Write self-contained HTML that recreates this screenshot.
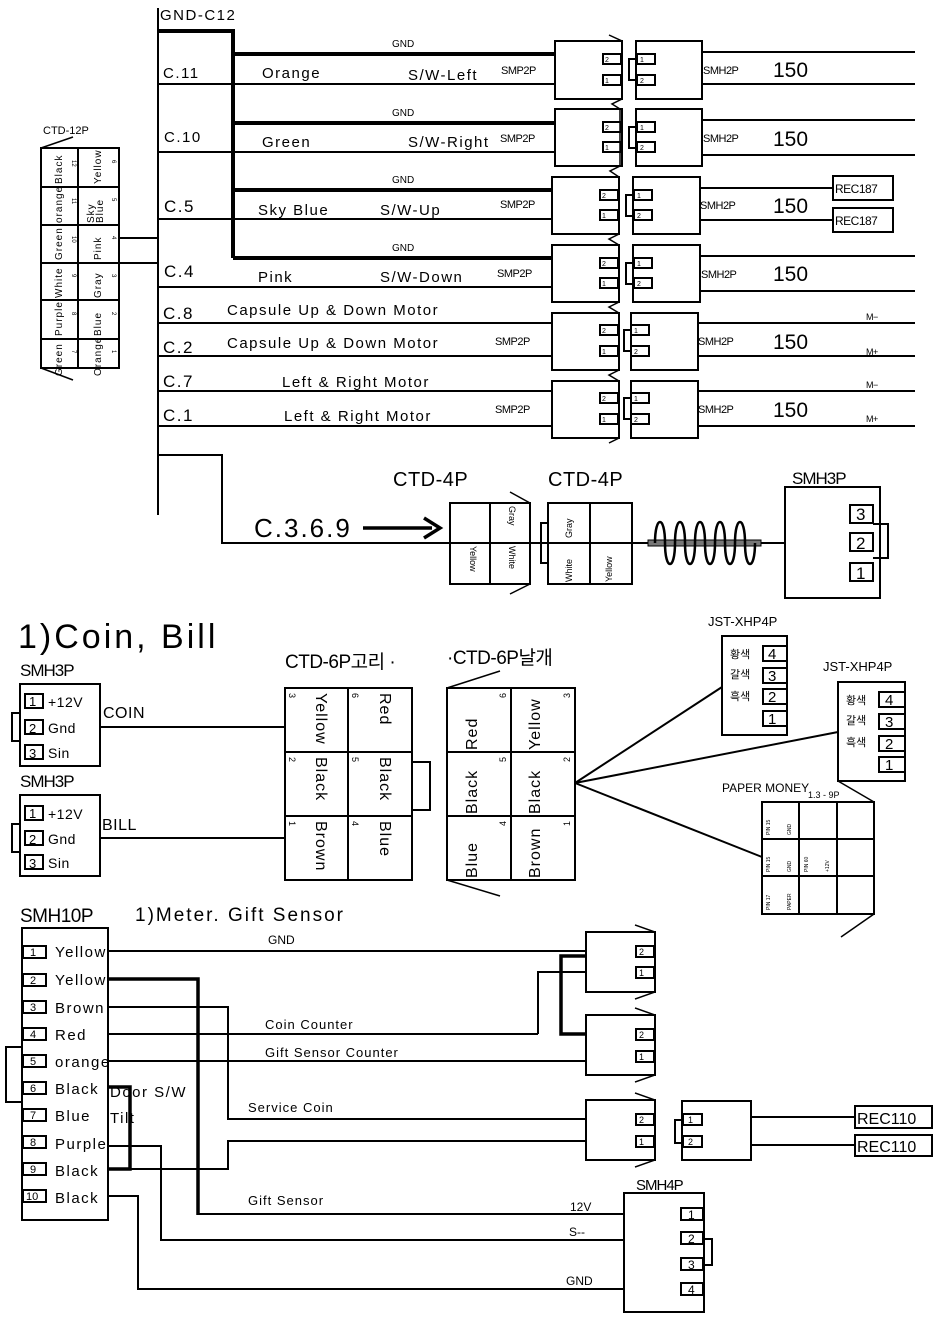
<!DOCTYPE html>
<html><head><meta charset="utf-8"><style>
html,body{margin:0;padding:0;background:#fff}
svg{display:block}
text{font-family:"Liberation Sans","Noto Sans CJK KR",sans-serif;fill:#000}
</style></head><body>
<svg width="939" height="1325" viewBox="0 0 939 1325" xmlns="http://www.w3.org/2000/svg">
<g stroke="#000" fill="none" stroke-width="2">
<line x1="158" y1="8" x2="158" y2="515"/>
<polyline points="158,31 233,31 233,258" stroke-width="4"/>
<line x1="233" y1="54" x2="556" y2="54" stroke-width="4"/>
<line x1="233" y1="123" x2="556" y2="123" stroke-width="4"/>
<line x1="233" y1="190" x2="553" y2="190" stroke-width="4"/>
<line x1="233" y1="258" x2="553" y2="258" stroke-width="4"/>
<line x1="158" y1="84" x2="556" y2="84"/>
<line x1="158" y1="152" x2="556" y2="152"/>
<line x1="158" y1="219" x2="553" y2="219"/>
<line x1="158" y1="287" x2="553" y2="287"/>
<line x1="158" y1="323" x2="553" y2="323"/>
<line x1="158" y1="356" x2="553" y2="356"/>
<line x1="158" y1="391" x2="553" y2="391"/>
<line x1="158" y1="426" x2="553" y2="426"/>
<rect x="41" y="148" width="78" height="220"/>
<line x1="78" y1="148" x2="78" y2="368"/>
<line x1="41" y1="187" x2="119" y2="187"/><line x1="41" y1="225" x2="119" y2="225"/>
<line x1="41" y1="263" x2="119" y2="263"/><line x1="41" y1="300" x2="119" y2="300"/>
<line x1="41" y1="339" x2="119" y2="339"/>
<line x1="41" y1="148" x2="73" y2="137" stroke-width="1.5"/>
<line x1="41" y1="368" x2="73" y2="380" stroke-width="1.5"/>
<line x1="119" y1="238" x2="158" y2="238"/>
<line x1="119" y1="263" x2="158" y2="263"/>
</g>
<g font-size="15" letter-spacing="1.5">
<text x="160" y="20">GND-C12</text>
<text x="163" y="78">C.11</text><text x="262" y="78">Orange</text><text x="408" y="80">S/W-Left</text>
<text x="164" y="142">C.10</text><text x="262" y="147">Green</text><text x="408" y="147">S/W-Right</text>
<text x="164" y="212" font-size="17">C.5</text><text x="258" y="215">Sky Blue</text><text x="380" y="215">S/W-Up</text>
<text x="164" y="277" font-size="17">C.4</text><text x="258" y="282">Pink</text><text x="380" y="282">S/W-Down</text>
<text x="163" y="319" font-size="17">C.8</text><text x="227" y="315">Capsule Up &amp; Down Motor</text>
<text x="163" y="353" font-size="17">C.2</text><text x="227" y="348">Capsule Up &amp; Down Motor</text>
<text x="163" y="387" font-size="17">C.7</text><text x="282" y="387">Left &amp; Right Motor</text>
<text x="163" y="421" font-size="17">C.1</text><text x="284" y="421">Left &amp; Right Motor</text>
</g>
<g font-size="10">
<text x="392" y="47">GND</text><text x="392" y="116">GND</text><text x="392" y="183">GND</text><text x="392" y="251">GND</text>
<text x="43" y="134" font-size="11">CTD-12P</text>
</g>
<g font-size="10" letter-spacing="1">
<text transform="translate(62,184) rotate(-90)">Black</text><text transform="translate(101,184) rotate(-90)">Yellow</text>
<text transform="translate(62,223) rotate(-90)">orange</text><text transform="translate(94,223) rotate(-90)">Sky</text><text transform="translate(103,223) rotate(-90)">Blue</text>
<text transform="translate(62,260) rotate(-90)">Green</text><text transform="translate(101,260) rotate(-90)">Pink</text>
<text transform="translate(62,298) rotate(-90)">White</text><text transform="translate(101,298) rotate(-90)">Gray</text>
<text transform="translate(62,336) rotate(-90)">Purple</text><text transform="translate(101,336) rotate(-90)">Blue</text>
<text transform="translate(62,376) rotate(-90)">Green</text><text transform="translate(101,376) rotate(-90)">Orange</text>
</g>
<g font-size="6">
<text transform="translate(72,160) rotate(90)">12</text><text transform="translate(112,160) rotate(90)">6</text>
<text transform="translate(72,198) rotate(90)">11</text><text transform="translate(112,198) rotate(90)">5</text>
<text transform="translate(72,236) rotate(90)">10</text><text transform="translate(112,236) rotate(90)">4</text>
<text transform="translate(72,274) rotate(90)">9</text><text transform="translate(112,274) rotate(90)">3</text>
<text transform="translate(72,312) rotate(90)">8</text><text transform="translate(112,312) rotate(90)">2</text>
<text transform="translate(72,350) rotate(90)">7</text><text transform="translate(112,350) rotate(90)">1</text>
</g>

<g stroke="#000" fill="none" stroke-width="2">
<rect x="555" y="41" width="67" height="58"/><rect x="636" y="41" width="66" height="58"/>
<rect x="603" y="54" width="18" height="10"/><rect x="603" y="75" width="18" height="10"/>
<rect x="637" y="54" width="18" height="10"/><rect x="637" y="75" width="18" height="10"/>
<polyline points="636,59 629,59 629,80 636,80"/>
<line x1="702" y1="52" x2="915" y2="52"/><line x1="702" y1="84" x2="915" y2="84"/>
<rect x="555" y="109" width="67" height="57"/><rect x="636" y="109" width="66" height="57"/>
<rect x="603" y="122" width="18" height="10"/><rect x="603" y="142" width="18" height="10"/>
<rect x="637" y="122" width="18" height="10"/><rect x="637" y="142" width="18" height="10"/>
<polyline points="636,127 629,127 629,148 636,148"/>
<line x1="702" y1="120" x2="915" y2="120"/><line x1="702" y1="155" x2="915" y2="155"/>
<rect x="552" y="177" width="67" height="57"/><rect x="633" y="177" width="67" height="57"/>
<rect x="600" y="190" width="18" height="10"/><rect x="600" y="210" width="18" height="10"/>
<rect x="634" y="190" width="18" height="10"/><rect x="634" y="210" width="18" height="10"/>
<polyline points="633,195 626,195 626,216 633,216"/>
<line x1="700" y1="188" x2="833" y2="188"/><line x1="700" y1="220" x2="833" y2="220"/>
<rect x="833" y="176" width="60" height="24"/><rect x="833" y="208" width="60" height="24"/>
<rect x="552" y="245" width="67" height="57"/><rect x="633" y="245" width="67" height="57"/>
<rect x="600" y="258" width="18" height="10"/><rect x="600" y="278" width="18" height="10"/>
<rect x="634" y="258" width="18" height="10"/><rect x="634" y="278" width="18" height="10"/>
<polyline points="633,263 626,263 626,284 633,284"/>
<line x1="700" y1="256" x2="915" y2="256"/><line x1="700" y1="291" x2="915" y2="291"/>
<rect x="552" y="313" width="67" height="57"/><rect x="631" y="313" width="67" height="57"/>
<rect x="600" y="325" width="18" height="10"/><rect x="600" y="346" width="18" height="10"/>
<rect x="631" y="325" width="18" height="10"/><rect x="631" y="346" width="18" height="10"/>
<polyline points="631,330 624,330 624,351 631,351"/>
<line x1="698" y1="323" x2="915" y2="323"/><line x1="698" y1="356" x2="915" y2="356"/>
<rect x="552" y="381" width="67" height="57"/><rect x="631" y="381" width="67" height="57"/>
<rect x="600" y="393" width="18" height="10"/><rect x="600" y="414" width="18" height="10"/>
<rect x="631" y="393" width="18" height="10"/><rect x="631" y="414" width="18" height="10"/>
<polyline points="631,398 624,398 624,419 631,419"/>
<line x1="698" y1="391" x2="915" y2="391"/><line x1="698" y1="426" x2="915" y2="426"/>
<polyline points="609,35 622,41 622,99 612,104 620,109 620,166 610,171 619,177 619,234 609,239 619,245 619,302 609,307 619,313 619,370 609,375 619,381 619,438 609,443" stroke-width="1.5"/>
</g>
<g font-size="11" letter-spacing="-0.5">
<text x="501" y="74">SMP2P</text><text x="500" y="142">SMP2P</text><text x="500" y="208">SMP2P</text><text x="497" y="277">SMP2P</text><text x="495" y="345">SMP2P</text><text x="495" y="413">SMP2P</text>
<text x="703" y="74">SMH2P</text><text x="703" y="142">SMH2P</text><text x="700" y="209">SMH2P</text><text x="701" y="278">SMH2P</text><text x="698" y="345">SMH2P</text><text x="698" y="413">SMH2P</text>
<text x="835" y="193" font-size="12">REC187</text><text x="835" y="225" font-size="12">REC187</text>
<text x="866" y="320" font-size="9">M−</text><text x="866" y="355" font-size="9">M+</text>
<text x="866" y="388" font-size="9">M−</text><text x="866" y="422" font-size="9">M+</text>
</g>
<g font-size="21">
<text x="773" y="77">150</text><text x="773" y="146">150</text><text x="773" y="213">150</text><text x="773" y="281">150</text><text x="773" y="349">150</text><text x="773" y="417">150</text>
</g>
<g font-size="7">
<text x="605" y="62">2</text><text x="605" y="83">1</text><text x="640" y="62">1</text><text x="640" y="83">2</text>
<text x="605" y="130">2</text><text x="605" y="150">1</text><text x="640" y="130">1</text><text x="640" y="150">2</text>
<text x="602" y="198">2</text><text x="602" y="218">1</text><text x="637" y="198">1</text><text x="637" y="218">2</text>
<text x="602" y="266">2</text><text x="602" y="286">1</text><text x="637" y="266">1</text><text x="637" y="286">2</text>
<text x="602" y="333">2</text><text x="602" y="354">1</text><text x="634" y="333">1</text><text x="634" y="354">2</text>
<text x="602" y="401">2</text><text x="602" y="422">1</text><text x="634" y="401">1</text><text x="634" y="422">2</text>
</g>

<g stroke="#000" fill="none" stroke-width="2">
<polyline points="158,455 222,455 222,543 785,543"/>
<line x1="363" y1="528" x2="432" y2="528" stroke-width="3.5"/>
<polyline points="424,518 440,528 424,538" stroke-width="3.5"/>
<rect x="450" y="503" width="80" height="81"/><line x1="490" y1="503" x2="490" y2="584"/>
<line x1="530" y1="503" x2="510" y2="492" stroke-width="1.5"/><line x1="530" y1="584" x2="510" y2="594" stroke-width="1.5"/>
<rect x="548" y="503" width="84" height="81"/><line x1="590" y1="503" x2="590" y2="584"/>
<polyline points="548,523 541,523 541,563 548,563"/>
<rect x="785" y="487" width="95" height="111"/>
<rect x="850" y="505" width="23" height="18"/><rect x="850" y="533" width="23" height="18"/><rect x="850" y="563" width="23" height="18"/>
<polyline points="873,524 888,524 888,558 873,558"/>
<rect x="648" y="540" width="113" height="6" fill="#777" stroke-width="1"/>
<path d="M655,543 C655,515 665,515 665,543 C665,571 675,571 675,543 C675,515 685,515 685,543 C685,571 695,571 695,543 C695,515 705,515 705,543 C705,571 715,571 715,543 C715,515 725,515 725,543 C725,571 735,571 735,543 C735,515 745,515 745,543 C745,571 755,571 755,543" stroke-width="2.5"/>
</g>
<g font-size="20" letter-spacing="0.5">
<text x="393" y="486">CTD-4P</text><text x="548" y="486">CTD-4P</text>
<text x="254" y="537" font-size="26" letter-spacing="2">C.3.6.9</text>
<text x="792" y="484" font-size="17" letter-spacing="-1">SMH3P</text>
<text x="856" y="520" font-size="17">3</text><text x="856" y="549" font-size="17">2</text><text x="856" y="579" font-size="17">1</text>
</g>
<g font-size="9">
<text transform="translate(509,506) rotate(90)">Gray</text><text transform="translate(509,546) rotate(90)">White</text>
<text transform="translate(470,546) rotate(90)">Yellow</text>
<text transform="translate(572,538) rotate(-90)">Gray</text><text transform="translate(572,582) rotate(-90)">White</text>
<text transform="translate(612,582) rotate(-90)">Yellow</text>
</g>

<text x="18" y="648" font-size="34" letter-spacing="3">1)Coin, Bill</text>
<text x="285" y="668" font-size="19" letter-spacing="-0.5">CTD-6P고리 ·</text>
<text x="447" y="664" font-size="19" letter-spacing="-0.5">·CTD-6P날개</text>
<g stroke="#000" fill="none" stroke-width="2">
<rect x="20" y="684" width="80" height="82"/>
<rect x="25" y="694" width="18" height="14"/><rect x="25" y="720" width="18" height="14"/><rect x="25" y="745" width="18" height="14"/>
<polyline points="20,713 12,713 12,741 20,741"/>
<line x1="100" y1="727" x2="285" y2="727"/>
<rect x="20" y="795" width="80" height="81"/>
<rect x="25" y="806" width="18" height="14"/><rect x="25" y="831" width="18" height="14"/><rect x="25" y="855" width="18" height="14"/>
<polyline points="20,824 12,824 12,852 20,852"/>
<line x1="100" y1="838" x2="285" y2="838"/>
<rect x="285" y="688" width="127" height="192"/><line x1="348" y1="688" x2="348" y2="880"/>
<line x1="285" y1="752" x2="412" y2="752"/><line x1="285" y1="816" x2="412" y2="816"/>
<polyline points="412,762 430,762 430,810 412,810"/>
<rect x="447" y="688" width="128" height="192"/><line x1="511" y1="688" x2="511" y2="880"/>
<line x1="447" y1="752" x2="575" y2="752"/><line x1="447" y1="816" x2="575" y2="816"/>
<line x1="447" y1="688" x2="500" y2="671" stroke-width="1.5"/><line x1="447" y1="880" x2="500" y2="896" stroke-width="1.5"/>
<line x1="575" y1="783" x2="722" y2="687"/><line x1="575" y1="783" x2="838" y2="732"/><line x1="575" y1="783" x2="762" y2="857"/>
<rect x="722" y="636" width="65" height="99"/>
<rect x="763" y="646" width="24" height="15"/><rect x="763" y="668" width="24" height="15"/><rect x="763" y="689" width="24" height="15"/><rect x="763" y="711" width="24" height="15"/>
<rect x="838" y="682" width="67" height="99"/>
<rect x="879" y="692" width="26" height="15"/><rect x="879" y="714" width="26" height="15"/><rect x="879" y="736" width="26" height="15"/><rect x="879" y="757" width="26" height="15"/>
<rect x="762" y="802" width="112" height="112"/>
<line x1="799" y1="802" x2="799" y2="914"/><line x1="837" y1="802" x2="837" y2="914"/>
<line x1="762" y1="839" x2="874" y2="839"/><line x1="762" y1="876" x2="874" y2="876"/>
<line x1="838" y1="781" x2="874" y2="802" stroke-width="1.5"/><line x1="874" y1="914" x2="841" y2="937" stroke-width="1.5"/>
</g>
<g font-size="14" letter-spacing="0.5">
<text x="20" y="676" font-size="17" letter-spacing="-1">SMH3P</text>
<text x="29" y="706" font-size="13">1</text><text x="48" y="707">+12V</text>
<text x="29" y="733" font-size="13">2</text><text x="48" y="733">Gnd</text>
<text x="29" y="758" font-size="13">3</text><text x="48" y="758">Sin</text>
<text x="103" y="718" font-size="16">COIN</text>
<text x="20" y="787" font-size="17" letter-spacing="-1">SMH3P</text>
<text x="29" y="818" font-size="13">1</text><text x="48" y="819">+12V</text>
<text x="29" y="844" font-size="13">2</text><text x="48" y="844">Gnd</text>
<text x="29" y="868" font-size="13">3</text><text x="48" y="868">Sin</text>
<text x="102" y="830" font-size="16">BILL</text>
</g>
<g font-size="16" letter-spacing="1">
<text transform="translate(316,693) rotate(90)">Yellow</text><text transform="translate(380,693) rotate(90)">Red</text>
<text transform="translate(316,757) rotate(90)">Black</text><text transform="translate(380,757) rotate(90)">Black</text>
<text transform="translate(316,821) rotate(90)">Brown</text><text transform="translate(380,821) rotate(90)">Blue</text>
<text transform="translate(477,750) rotate(-90)">Red</text><text transform="translate(540,750) rotate(-90)">Yellow</text>
<text transform="translate(477,814) rotate(-90)">Black</text><text transform="translate(540,814) rotate(-90)">Black</text>
<text transform="translate(477,878) rotate(-90)">Blue</text><text transform="translate(540,878) rotate(-90)">Brown</text>
</g>
<g font-size="9">
<text transform="translate(289,693) rotate(90)">3</text><text transform="translate(352,693) rotate(90)">6</text>
<text transform="translate(289,757) rotate(90)">2</text><text transform="translate(352,757) rotate(90)">5</text>
<text transform="translate(289,821) rotate(90)">1</text><text transform="translate(352,821) rotate(90)">4</text>
<text transform="translate(506,698) rotate(-90)">6</text><text transform="translate(570,698) rotate(-90)">3</text>
<text transform="translate(506,762) rotate(-90)">5</text><text transform="translate(570,762) rotate(-90)">2</text>
<text transform="translate(506,826) rotate(-90)">4</text><text transform="translate(570,826) rotate(-90)">1</text>
</g>
<g font-size="13">
<text x="708" y="626">JST-XHP4P</text><text x="823" y="671">JST-XHP4P</text>
<text x="730" y="658" font-size="11">황색</text><text x="730" y="678" font-size="11">갈색</text><text x="730" y="700" font-size="11">흑색</text>
<text x="768" y="659" font-size="15">4</text><text x="768" y="681" font-size="15">3</text><text x="768" y="702" font-size="15">2</text><text x="768" y="724" font-size="15">1</text>
<text x="846" y="704" font-size="11">황색</text><text x="846" y="724" font-size="11">갈색</text><text x="846" y="746" font-size="11">흑색</text>
<text x="885" y="705" font-size="15">4</text><text x="885" y="727" font-size="15">3</text><text x="885" y="749" font-size="15">2</text><text x="885" y="770" font-size="15">1</text>
<text x="722" y="792" font-size="12">PAPER MONEY</text><text x="808" y="798" font-size="9">1.3   - 9P</text>
</g>
<g font-size="5">
<text transform="translate(770,835) rotate(-90)">PIN 15</text><text transform="translate(791,835) rotate(-90)">GND</text>
<text transform="translate(770,872) rotate(-90)">PIN 15</text><text transform="translate(791,872) rotate(-90)">GND</text>
<text transform="translate(808,872) rotate(-90)">PIN 60</text><text transform="translate(829,872) rotate(-90)">+12V</text>
<text transform="translate(770,910) rotate(-90)">PIN 17</text><text transform="translate(791,910) rotate(-90)">PAPER</text>
</g>

<text x="20" y="922" font-size="19" letter-spacing="-0.5">SMH10P</text>
<text x="135" y="921" font-size="19" letter-spacing="2">1)Meter. Gift Sensor</text>
<g stroke="#000" fill="none" stroke-width="2">
<rect x="22" y="928" width="86" height="292"/>
<rect x="23" y="946" width="23" height="12"/><rect x="23" y="974" width="23" height="12"/><rect x="23" y="1001" width="23" height="12"/>
<rect x="23" y="1028" width="23" height="12"/><rect x="23" y="1055" width="23" height="12"/><rect x="23" y="1082" width="23" height="12"/>
<rect x="23" y="1109" width="23" height="12"/><rect x="23" y="1136" width="23" height="12"/><rect x="23" y="1163" width="23" height="12"/>
<rect x="23" y="1190" width="23" height="12"/>
<polyline points="22,1047 6,1047 6,1102 22,1102"/>
<line x1="108" y1="951" x2="587" y2="951"/>
<polyline points="108,979 198,979 198,1215" stroke-width="3.5"/>
<line x1="198" y1="1214" x2="625" y2="1214"/>
<polyline points="108,1007 228,1007 228,1119 587,1119"/>
<line x1="108" y1="1034" x2="538" y2="1034"/>
<polyline points="538,1034 538,972 587,972"/>
<line x1="108" y1="1061" x2="587" y2="1061"/>
<polyline points="108,1087 130,1087 130,1169 108,1169" stroke-width="3.5"/>
<polyline points="130,1169 228,1169 228,1141 587,1141"/>
<polyline points="108,1146 161,1146 161,1240 625,1240"/>
<polyline points="108,1196 138,1196 138,1289 625,1289"/>
<polyline points="587,956 561,956 561,1034 587,1034" stroke-width="3.5"/>
<rect x="586" y="932" width="69" height="60"/><rect x="586" y="1015" width="69" height="60"/><rect x="586" y="1100" width="69" height="60"/>
<rect x="636" y="946" width="18" height="11"/><rect x="636" y="967" width="18" height="11"/>
<rect x="636" y="1029" width="18" height="11"/><rect x="636" y="1051" width="18" height="11"/>
<rect x="636" y="1114" width="18" height="11"/><rect x="636" y="1136" width="18" height="11"/>
<polyline points="635,925 655,932 655,992 635,999" stroke-width="1.5"/>
<polyline points="635,1008 655,1015 655,1075 635,1082" stroke-width="1.5"/>
<polyline points="635,1093 655,1100 655,1160 635,1167" stroke-width="1.5"/>
<rect x="682" y="1101" width="69" height="59"/>
<rect x="683" y="1114" width="19" height="11"/><rect x="683" y="1136" width="19" height="11"/>
<polyline points="682,1120 675,1120 675,1143 682,1143"/>
<line x1="751" y1="1117" x2="855" y2="1117"/><line x1="751" y1="1145" x2="855" y2="1145"/>
<rect x="855" y="1106" width="77" height="22"/><rect x="855" y="1135" width="77" height="21"/>
<rect x="624" y="1193" width="80" height="119"/>
<rect x="681" y="1208" width="22" height="12"/><rect x="681" y="1232" width="22" height="12"/><rect x="681" y="1258" width="22" height="12"/><rect x="681" y="1283" width="22" height="12"/>
<polyline points="703,1239 712,1239 712,1265 703,1265"/>
</g>
<g font-size="15" letter-spacing="1.5">
<text x="55" y="957">Yellow</text><text x="55" y="985">Yellow</text><text x="55" y="1013">Brown</text><text x="55" y="1040">Red</text>
<text x="55" y="1067">orange</text><text x="55" y="1094">Black</text><text x="55" y="1121">Blue</text><text x="55" y="1149">Purple</text>
<text x="55" y="1176">Black</text><text x="55" y="1203">Black</text>
<text x="110" y="1097">Door S/W</text><text x="110" y="1123">Tilt</text>
</g>
<g font-size="11">
<text x="30" y="956">1</text><text x="30" y="984">2</text><text x="30" y="1011">3</text><text x="30" y="1038">4</text><text x="30" y="1065">5</text>
<text x="30" y="1092">6</text><text x="30" y="1119">7</text><text x="30" y="1146">8</text><text x="30" y="1173">9</text><text x="26" y="1200">10</text>
</g>
<g font-size="13" letter-spacing="1">
<text x="268" y="944" font-size="12" letter-spacing="0">GND</text>
<text x="265" y="1029">Coin Counter</text>
<text x="265" y="1057">Gift Sensor Counter</text>
<text x="248" y="1112">Service Coin</text>
<text x="248" y="1205">Gift Sensor</text>
<text x="570" y="1211" font-size="12" letter-spacing="0">12V</text>
<text x="569" y="1236" font-size="12" letter-spacing="0">S--</text>
<text x="566" y="1285" font-size="12" letter-spacing="0">GND</text>
<text x="636" y="1190" font-size="15" letter-spacing="-1">SMH4P</text>
<text x="857" y="1124" font-size="16" letter-spacing="0">REC110</text>
<text x="857" y="1152" font-size="16" letter-spacing="0">REC110</text>
</g>
<g font-size="9">
<text x="639" y="955">2</text><text x="639" y="976">1</text><text x="639" y="1038">2</text><text x="639" y="1060">1</text>
<text x="639" y="1123">2</text><text x="639" y="1145">1</text><text x="688" y="1123">1</text><text x="688" y="1145">2</text>
<text x="688" y="1219" font-size="12">1</text><text x="688" y="1243" font-size="12">2</text><text x="688" y="1269" font-size="12">3</text><text x="688" y="1294" font-size="12">4</text>
</g>
</svg>
</body></html>
